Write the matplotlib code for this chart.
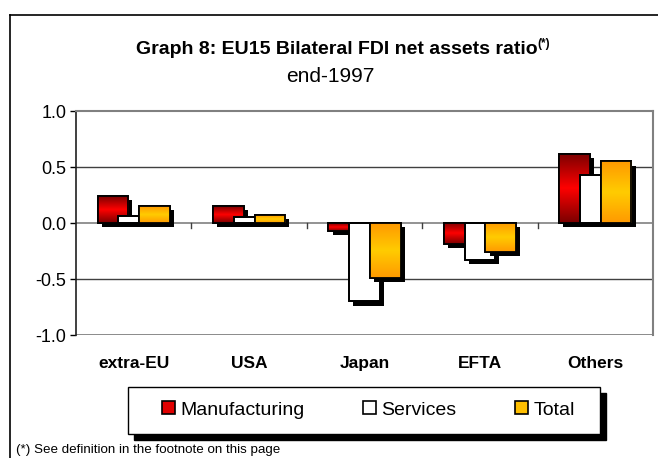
import numpy as np
import matplotlib
matplotlib.use("Agg")
import matplotlib.pyplot as plt
import matplotlib.patheffects as pe
from matplotlib.colors import LinearSegmentedColormap
from matplotlib.patches import Patch, Rectangle
from matplotlib.lines import Line2D

plt.rcParams['font.family'] = ['Liberation Sans', 'DejaVu Sans']

# Data (end-1997)
regions = ["extra-EU", "USA", "Japan", "EFTA", "Others"]
manufacturing = [0.24, 0.15, -0.07, -0.19, 0.62]
services = [0.06, 0.05, -0.70, -0.33, 0.43]
total = [0.15, 0.07, -0.49, -0.26, 0.55]
series_names = ["Manufacturing", "Services", "Total"]

fig = plt.figure(figsize=(6.58, 4.58), dpi=100)
ax = fig.add_axes([76 / 658, 1 - 335 / 458, 577 / 658, 224 / 458])

x = np.arange(len(regions))
width = 0.265
offsets = [-0.18, 0.0, 0.18]

red_cmap = LinearSegmentedColormap.from_list("red", ["#7a0000", "#ff0000", "#7a0000"])
orange_cmap = LinearSegmentedColormap.from_list("orange", ["#ff9900", "#ffcc00", "#ff9900"])
fills = [red_cmap, None, orange_cmap]
grad = np.linspace(0, 1, 128).reshape(-1, 1)

shadow = [pe.SimplePatchShadow(offset=(3, -3), shadow_rgbFace="black", alpha=1), pe.Normal()]

for i, vals in enumerate([manufacturing, services, total]):
    z = 3 + i
    bars = ax.bar(x + offsets[i], vals, width, color="white", edgecolor="black",
                  linewidth=1.3, zorder=z, path_effects=shadow)
    if fills[i] is not None:
        for b in bars:
            x0, y0 = b.get_x(), b.get_y()
            x1, y1 = x0 + b.get_width(), y0 + b.get_height()
            im = ax.imshow(grad, cmap=fills[i], extent=(x0, x1, min(y0, y1), max(y0, y1)),
                           aspect="auto", interpolation="bilinear", zorder=z + 0.1)
            im.set_clip_path(b)
    ax.bar(x + offsets[i], vals, width, fill=False, edgecolor="black",
           linewidth=1.3, zorder=z + 0.2)

ax.set_xlim(-0.5, len(regions) - 0.5)
ax.set_ylim(-1.0, 1.0)
ax.set_yticks([-1.0, -0.5, 0.0, 0.5, 1.0])
ax.set_yticklabels(["-1.0", "-0.5", "0.0", "0.5", "1.0"], fontsize=13)
for yv in [-0.5, 0.5]:
    ax.axhline(yv, color="#404040", linewidth=1, zorder=1)

for s in ["top", "right"]:
    ax.spines[s].set_color("#808080")
    ax.spines[s].set_linewidth(1.5)
ax.spines["left"].set_color("#202020")
ax.spines["left"].set_linewidth(1.2)
ax.spines["bottom"].set_visible(False)
ax.axhline(-1.0, color="#808080", linewidth=2, zorder=2)
ax.axhline(0.0, color="#808080", linewidth=1.2, zorder=2)

# category ticks hang off the zero line
ax.set_xticks([])
for b in np.arange(0.5, len(regions) - 0.5):
    ax.plot([b, b], [0, -0.045], color="#404040", linewidth=1, zorder=2, clip_on=False)
ax.tick_params(axis="y", length=4, width=1, pad=3, colors="black")

for xi, name in zip(x, regions):
    ax.text(xi, -1.255, name, ha="center", va="center", fontsize=12.5,
            fontweight="bold")

# title
t = fig.text(0.512, 1 - 49 / 458, "Graph 8: EU15 Bilateral FDI net assets ratio",
             ha="center", va="center", fontsize=14, fontweight="bold")
ax.annotate("(*)", xy=(1, 1), xycoords=t, xytext=(0, 2), textcoords="offset points",
            ha="left", va="top", fontsize=8.5, fontweight="bold")
fig.text(0.502, 1 - 76 / 458, "end-1997", ha="center", va="center", fontsize=15)

# legend with its own framed box and hard shadow
lx0, ly0, lx1, ly1 = 128, 387, 600, 434
fig.add_artist(Rectangle((lx0 / 658 + 6 / 658, 1 - ly1 / 458 - 6 / 458), (lx1 - lx0) / 658,
                         (ly1 - ly0) / 458, transform=fig.transFigure,
                         facecolor="black", edgecolor="black", zorder=5))
fig.add_artist(Rectangle((lx0 / 658, 1 - ly1 / 458), (lx1 - lx0) / 658, (ly1 - ly0) / 458,
                         transform=fig.transFigure, facecolor="white",
                         edgecolor="black", linewidth=1, zorder=6))
handles = [Patch(facecolor="#e00000", edgecolor="black", linewidth=1.2),
           Patch(facecolor="white", edgecolor="black", linewidth=1.2),
           Patch(facecolor="#ffbf00", edgecolor="black", linewidth=1.2)]
leg = fig.legend(handles, series_names, loc="center", bbox_to_anchor=(0.56, 1 - 410 / 458),
                 ncol=3, frameon=False, fontsize=14, handlelength=0.65, handleheight=0.65,
                 handletextpad=0.3, columnspacing=3.0)
leg.set_zorder(7)

fig.text(16 / 658, 1 - 450 / 458, "(*) See definition in the footnote on this page",
         ha="left", va="center", fontsize=9.6)

# outer frame (top and left edges visible)
fig.add_artist(Line2D([10 / 658, 1], [1 - 15 / 458, 1 - 15 / 458], color="black",
                      linewidth=1.2, transform=fig.transFigure))
fig.add_artist(Line2D([10 / 658, 10 / 658], [0, 1 - 15 / 458], color="black",
                      linewidth=1.2, transform=fig.transFigure))

fig.savefig("out.png", dpi=100)
